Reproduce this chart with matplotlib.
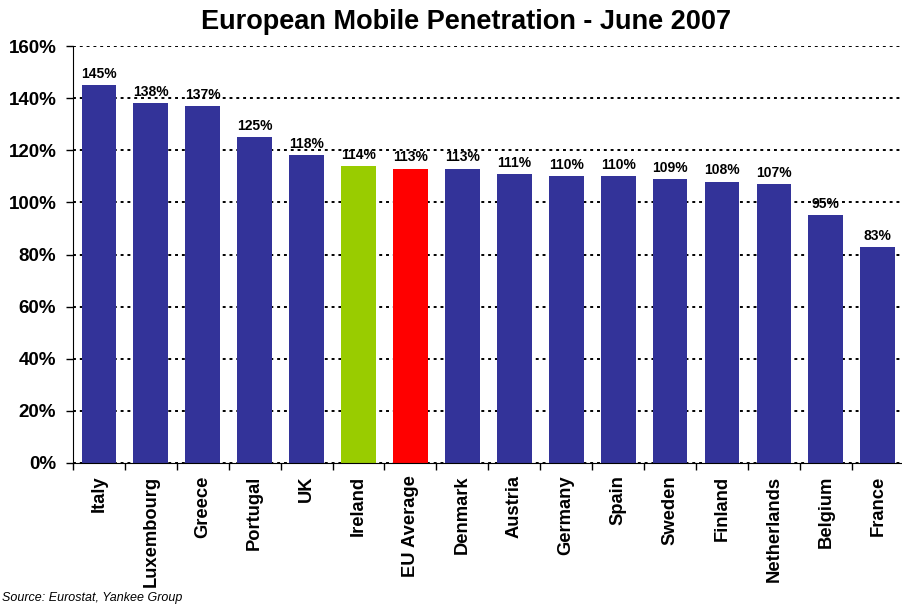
import matplotlib
matplotlib.use('Agg')
import matplotlib.pyplot as plt
import numpy as np

plt.rcParams['font.family'] = ['Liberation Sans', 'DejaVu Sans']

countries = ['Italy', 'Luxembourg', 'Greece', 'Portugal', 'UK', 'Ireland', 'EU Average',
             'Denmark', 'Austria', 'Germany', 'Spain', 'Sweden', 'Finland', 'Netherlands',
             'Belgium', 'France']
penetration = [145, 138, 137, 125, 118, 114, 113, 113, 111, 110, 110, 109, 108, 107, 95, 83]
colours = ['#333399'] * len(countries)
colours[5] = '#99CC00'
colours[6] = '#FF0000'

fig = plt.figure(figsize=(9.03, 6.08), dpi=100)
ax = fig.add_axes([0.0808, 0.2385, 0.92, 0.6858])

x = np.arange(len(countries))
bars = ax.bar(x, penetration, width=0.67, color=colours, zorder=2)

for xi, v in zip(x, penetration):
    ax.annotate('%d%%' % v, (xi, v), xytext=(0, 3), textcoords='offset points',
                ha='center', va='bottom', fontsize=10, fontweight='bold', zorder=3)

ax.set_xlim(-0.5, len(countries) - 0.5)
ax.set_ylim(0, 160)
yt = np.arange(0, 161, 20)
ax.set_yticks(yt)
ax.set_yticklabels(['%d%%' % t for t in yt], fontsize=13.5, fontweight='bold')
ax.yaxis.grid(True, linestyle=(0, (1.5, 2.0)), color='black', linewidth=1.4, zorder=0)
ax.set_axisbelow(True)

ax.set_xticks(x)
ax.set_xticklabels(countries, rotation=90, fontsize=13.2, fontweight='bold')
ax.tick_params(axis='x', length=0, pad=9)
ax.set_xticks(np.arange(-0.5, len(countries), 1), minor=True)
ax.tick_params(axis='x', which='minor', length=5, width=1)
ax.tick_params(axis='y', length=5, width=1, pad=7)

for s in ['top', 'right']:
    ax.spines[s].set_visible(False)

fig.text(0.516, 0.963, 'European Mobile Penetration - June 2007', fontsize=19.5,
         fontweight='bold', ha='center', va='center')
fig.text(0.002, 0.006, 'Source: Eurostat, Yankee Group', fontsize=9, style='italic',
         ha='left', va='bottom')

fig.savefig('out.png', dpi=100)
